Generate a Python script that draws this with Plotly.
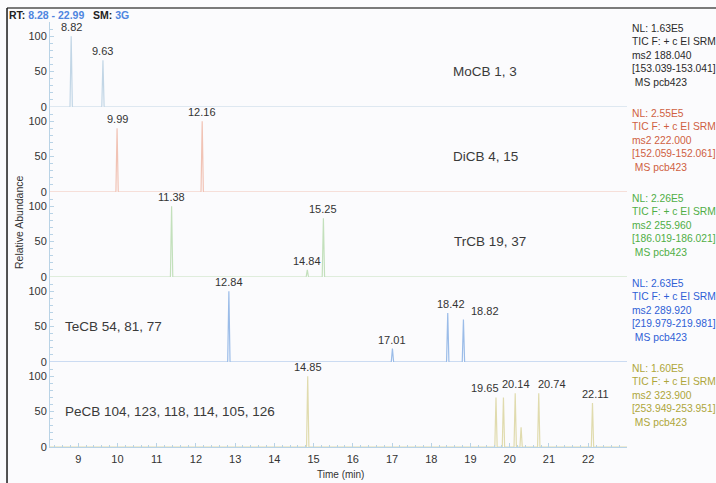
import plotly.graph_objects as go
from plotly.subplots import make_subplots

# Run window (min)
rt_start, rt_end = 8.28, 22.99

# Per-channel peaks: retention time (min) and relative abundance (%)
mocb_rt = [8.82, 9.63]
mocb_ab = [100, 66]
dicb_rt = [9.99, 12.16]
dicb_ab = [90, 100]
trcb_rt = [11.38, 14.84, 15.25]
trcb_ab = [100, 10, 83]
tecb_rt = [12.84, 17.01, 18.42, 18.82]
tecb_ab = [100, 19, 69, 60]
pecb_rt = [14.85, 19.65, 19.84, 20.14, 20.29, 20.74, 22.11]
pecb_ab = [100, 70, 70, 76, 28, 76, 62]

# Labelled peaks and the sideways nudge (px) of each label
mocb_lab = {8.82: 0, 9.63: 0}
dicb_lab = {9.99: 0, 12.16: 0}
trcb_lab = {11.38: 0, 14.84: 0, 15.25: 0}
tecb_lab = {12.84: 0, 17.01: 0, 18.42: 3, 18.82: 22}
pecb_lab = {14.85: 0, 19.65: -11, 20.14: 1, 20.74: 13, 22.11: 3}

names = ["MoCB 1, 3", "DiCB 4, 15", "TrCB 19, 37", "TeCB 54, 81, 77",
         "PeCB 104, 123, 118, 114, 105, 126"]
nl_values = ["1.63E5", "2.55E5", "2.26E5", "2.63E5", "1.60E5"]
ms2_values = ["188.040", "222.000", "255.960", "289.920", "323.900"]
windows = ["[153.039-153.041]", "[152.059-152.061]", "[186.019-186.021]",
           "[219.979-219.981]", "[253.949-253.951]"]

line_colors = ["#c2d6e6", "#f1c3b5", "#c3e0bc", "#9bbce8", "#e0dbae"]
text_colors = ["#2a2a2a", "#cf5f42", "#4fae45", "#2f5fd6", "#aea63a"]

channels = [(mocb_rt, mocb_ab, mocb_lab), (dicb_rt, dicb_ab, dicb_lab),
            (trcb_rt, trcb_ab, trcb_lab), (tecb_rt, tecb_ab, tecb_lab),
            (pecb_rt, pecb_ab, pecb_lab)]

HALF_WIDTH = 0.03  # half base width of a peak, minutes

FONT = "Liberation Sans, Arial, sans-serif"

fig = make_subplots(rows=5, cols=1, shared_xaxes=True, vertical_spacing=0)

for i, (rts, abs_, labs) in enumerate(channels):
    row = i + 1
    xs, ys = [rt_start], [0]
    for t, a in sorted(zip(rts, abs_)):
        xs += [t - HALF_WIDTH, t, t + HALF_WIDTH]
        ys += [0, a, 0]
    xs.append(rt_end)
    ys.append(0)
    fig.add_trace(go.Scatter(x=xs, y=ys, mode="lines",
                             line=dict(color=line_colors[i], width=1.2),
                             hoverinfo="skip", showlegend=False),
                  row=row, col=1)
    lookup = dict(zip(rts, abs_))
    for t, dx in labs.items():
        fig.add_annotation(x=t, y=lookup[t], text=f"{t:.2f}", showarrow=False,
                           yanchor="bottom", yshift=1, xshift=dx,
                           font=dict(family=FONT, size=11, color="#333333"),
                           row=row, col=1)

# Compound group labels inside each panel
group_x = [0.695, 0.695, 0.697, 0.022, 0.022]
for i, name in enumerate(names):
    yref = "y" if i == 0 else f"y{i+1}"
    fig.add_annotation(xref="paper", yref=yref, x=group_x[i], y=50, text=name,
                       xanchor="left", yanchor="middle", showarrow=False,
                       font=dict(family=FONT, size=13.5, color="#3a3a3a"))

# Scan description blocks on the right
for i in range(5):
    top = 1 - i * 0.2
    txt = (f"NL: {nl_values[i]}<br>TIC F: + c EI SRM<br>ms2 {ms2_values[i]}"
           f"<br>{windows[i]}<br> MS pcb423")
    fig.add_annotation(xref="paper", yref="paper", x=1.005, y=top + 0.003,
                       text=txt, align="left", xanchor="left", yanchor="top",
                       showarrow=False,
                       font=dict(family=FONT, size=10.3, color=text_colors[i]))

# Header line
fig.add_annotation(xref="paper", yref="paper", x=-0.074, y=1.0165,
                   text=("<b>RT: <span style='color:#4f86e0'>8.28 - 22.99</span>"
                         "&nbsp;&nbsp; SM: <span style='color:#4f86e0'>3G</span></b>"),
                   xanchor="left", yanchor="middle", showarrow=False,
                   font=dict(family=FONT, size=10.5, color="#222222"))

# Frame around the trace window
fig.add_shape(type="line", xref="paper", yref="paper",
              x0=-0.0745, x1=1.16, y0=1.033, y1=1.033,
              line=dict(color="#7a7a7a", width=2))
fig.add_shape(type="line", xref="paper", yref="paper",
              x0=-0.0745, x1=-0.0745, y0=1.033, y1=-0.09,
              line=dict(color="#1a1a1a", width=1.5))

axis_blue = "#b9d3e6"
for i in range(5):
    fig.update_yaxes(range=[0, 120], tickvals=[0, 50, 100],
                     ticks="inside", ticklen=4, tickcolor=axis_blue,
                     showline=True, linecolor=axis_blue, linewidth=1,
                     showgrid=False, zeroline=False, automargin=False,
                     minor=dict(dtick=10, ticks="inside", ticklen=2.5,
                                tickcolor=axis_blue, showgrid=False),
                     tickfont=dict(family=FONT, size=11, color="#333333"),
                     row=i + 1, col=1)
    fig.update_xaxes(range=[rt_start, rt_end], showgrid=False, zeroline=False,
                     showline=False, automargin=False, row=i + 1, col=1)

fig.update_xaxes(showline=True, linecolor=axis_blue, linewidth=1,
                 tickvals=list(range(9, 23)), ticks="inside", ticklen=4,
                 tickcolor=axis_blue, ticklabelstandoff=2,
                 minor=dict(dtick=0.2, ticks="inside", ticklen=2.5,
                            tickcolor=axis_blue, showgrid=False),
                 tickfont=dict(family=FONT, size=11, color="#333333"),
                 row=5, col=1)

# Axis titles
fig.add_annotation(xref="paper", yref="paper", x=0.503, y=-0.064,
                   text="Time (min)", showarrow=False,
                   xanchor="center", yanchor="middle",
                   font=dict(family=FONT, size=10, color="#333333"))
fig.add_annotation(xref="paper", yref="paper", x=-0.055, y=0.53,
                   text="Relative Abundance", textangle=-90, showarrow=False,
                   xanchor="center", yanchor="middle",
                   font=dict(family=FONT, size=10.5, color="#333333"))

fig.update_layout(width=716, height=483,
                  margin=dict(l=50, r=89, t=22, b=36),
                  paper_bgcolor="#fbfbfd", plot_bgcolor="#fbfbfd",
                  showlegend=False)

fig.write_html("out.html")
